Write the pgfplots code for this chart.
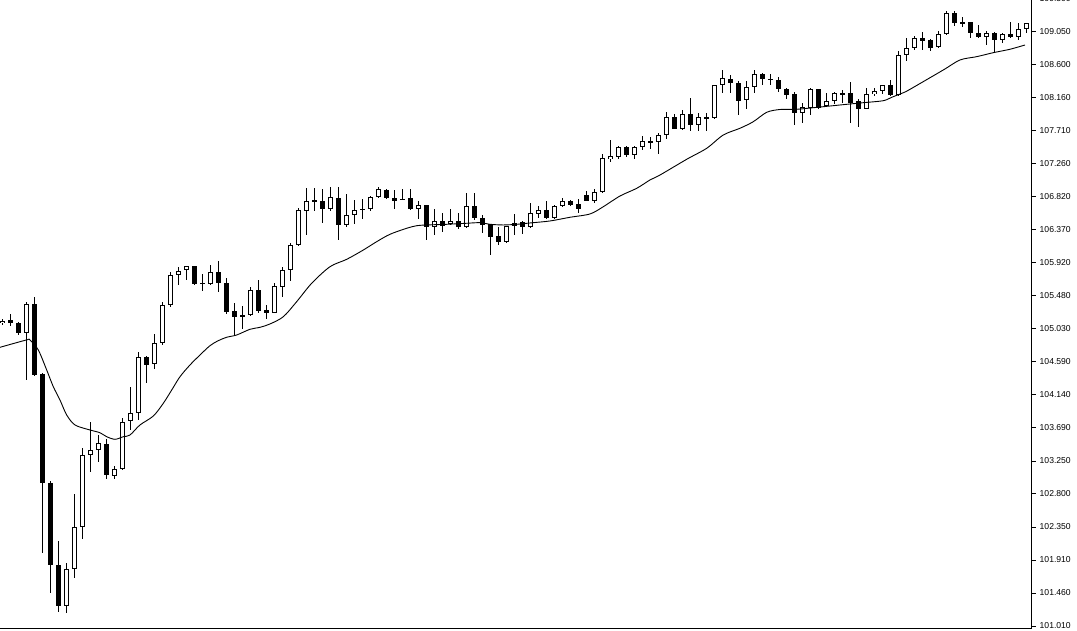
\documentclass[border=0pt]{standalone}
\usepackage{pgfplots}
\pgfplotsset{compat=1.18}
\usepackage{pgfplotstable}
\usepackage{fontspec}
\setmainfont{Liberation Sans}

\pgfplotstableread{
x o h l c
0 105.107 105.165 105.084 105.142
1 105.152 105.233 105.071 105.107
2 105.107 105.125 104.953 104.972
3 104.972 105.400 104.340 105.368
4 105.368 105.467 104.390 104.403
5 104.421 104.430 102.002 102.942
6 102.950 102.969 101.453 101.832
7 101.832 102.165 101.204 101.281
8 101.281 101.859 101.182 101.786
9 101.778 102.797 101.656 102.346
10 102.346 103.415 102.184 103.325
11 103.321 103.767 103.099 103.392
12 103.392 103.595 103.234 103.483
13 103.474 103.537 102.996 103.050
14 103.040 103.176 103.004 103.131
15 103.131 103.825 103.120 103.778
16 103.781 104.249 103.663 103.897
17 103.897 104.723 103.798 104.647
18 104.647 104.665 104.303 104.539
19 104.556 104.962 104.485 104.836
20 104.836 105.400 104.813 105.355
21 105.351 105.797 105.332 105.761
22 105.757 105.873 105.630 105.819
23 105.829 105.890 105.693 105.883
24 105.883 105.890 105.630 105.639
25 105.653 105.774 105.548 105.640
26 105.639 105.896 105.630 105.797
27 105.797 105.950 105.535 105.649
28 105.657 105.720 105.233 105.260
29 105.270 105.386 104.945 105.196
30 105.217 105.341 105.034 105.203
31 105.215 105.594 105.210 105.558
32 105.558 105.693 105.251 105.278
33 105.287 105.351 105.161 105.251
34 105.251 105.649 105.245 105.612
35 105.603 105.865 105.467 105.829
36 105.829 106.190 105.684 106.163
37 106.163 106.664 106.155 106.641
38 106.631 106.934 106.302 106.767
39 106.776 106.934 106.631 106.749
40 106.758 106.921 106.461 106.650
41 106.650 106.956 106.631 106.813
42 106.803 106.956 106.235 106.442
43 106.442 106.857 106.415 106.573
44 106.569 106.776 106.451 106.641
45 106.657 106.785 106.523 106.643
46 106.650 106.830 106.623 106.821
47 106.821 106.948 106.803 106.921
48 106.911 106.929 106.785 106.810
49 106.799 106.911 106.650 106.767
50 106.796 106.921 106.780 106.783
51 106.799 106.921 106.641 106.658
52 106.658 106.767 106.515 106.708
53 106.708 106.715 106.235 106.415
54 106.407 106.650 106.306 106.496
55 106.496 106.596 106.347 106.428
56 106.451 106.650 106.445 106.496
57 106.496 106.596 106.379 106.415
58 106.407 106.867 106.400 106.695
59 106.695 106.867 106.505 106.528
60 106.528 106.573 106.325 106.434
61 106.451 106.455 106.028 106.279
62 106.289 106.415 106.163 106.208
63 106.208 106.430 106.200 106.424
64 106.424 106.587 106.302 106.472
65 106.476 106.496 106.316 106.407
66 106.407 106.731 106.400 106.596
67 106.591 106.699 106.528 106.637
68 106.637 106.763 106.520 106.528
69 106.532 106.705 106.515 106.695
70 106.691 106.803 106.677 106.758
71 106.763 106.776 106.695 106.712
72 106.722 106.785 106.596 106.650
73 106.844 106.902 106.760 106.767
74 106.767 106.925 106.731 106.880
75 106.880 107.395 106.867 107.340
76 107.335 107.588 107.294 107.368
77 107.354 107.507 107.327 107.489
78 107.489 107.507 107.354 107.381
79 107.381 107.507 107.335 107.497
80 107.489 107.642 107.453 107.571
81 107.575 107.633 107.462 107.561
82 107.558 107.679 107.399 107.653
83 107.652 107.963 107.598 107.899
84 107.899 107.940 107.735 107.741
85 107.741 107.994 107.723 107.940
86 107.940 108.153 107.714 107.795
87 107.795 107.950 107.706 107.895
88 107.897 107.958 107.714 107.883
89 107.882 108.335 107.875 108.329
90 108.329 108.536 108.220 108.423
91 108.418 108.468 108.228 108.356
92 108.364 108.391 107.922 108.112
93 108.130 108.391 108.012 108.301
94 108.301 108.536 108.228 108.481
95 108.481 108.499 108.333 108.410
96 108.416 108.481 108.333 108.403
97 108.400 108.437 108.238 108.274
98 108.278 108.292 108.139 108.201
99 108.211 108.242 107.787 107.950
100 107.950 108.093 107.822 108.031
101 108.017 108.288 107.926 108.278
102 108.278 108.285 108.010 108.017
103 108.048 108.220 108.031 108.112
104 108.112 108.238 108.075 108.220
105 108.222 108.265 108.085 108.208
106 108.220 108.373 107.814 108.093
107 108.112 108.147 107.768 108.012
108 108.012 108.288 108.004 108.207
109 108.207 108.292 108.184 108.255
110 108.251 108.337 108.211 108.329
111 108.329 108.400 108.184 108.193
112 108.193 108.797 108.185 108.739
113 108.739 108.965 108.661 108.829
114 108.829 108.996 108.806 108.965
115 108.965 109.054 108.806 108.932
116 108.942 108.951 108.797 108.829
117 108.843 109.067 108.840 109.019
118 109.019 109.334 109.015 109.303
119 109.311 109.334 109.131 109.168
120 109.183 109.257 109.122 109.169
121 109.189 109.190 108.965 109.032
122 109.032 109.145 108.965 108.978
123 108.978 109.067 108.874 109.032
124 109.032 109.054 108.783 108.942
125 108.942 109.040 108.905 109.019
126 109.019 109.189 108.965 108.978
127 108.978 109.168 108.942 109.086
128 109.086 109.176 109.032 109.168
}\candles

\pgfplotstableread{
x ma
-0.29 104.782
3.0 104.881
3.46 104.881
4.5 104.746
5.55 104.475
6.375 104.249
7.21 104.069
8.05 103.866
9.09 103.731
10.96 103.663
12.21 103.626
13.05 103.572
14.09 103.537
15.125 103.572
15.96 103.595
17.21 103.731
18.875 103.852
20.125 104.024
21.175 104.204
22.21 104.384
23.46 104.543
24.71 104.678
25.96 104.804
27.0 104.872
28.05 104.918
29.3 104.949
30.96 105.026
32.21 105.053
33.46 105.098
35.125 105.196
36.8 105.400
38.675 105.649
40.96 105.873
43.05 105.973
45.125 106.099
46.8 106.212
48.46 106.312
50.55 106.393
51.8 106.428
53.05 106.438
55.55 106.447
58.05 106.461
59.71 106.469
60.96 106.447
62.625 106.438
64.3 106.447
65.96 106.465
68.46 106.492
70.96 106.542
73.46 106.587
75.125 106.685
77.21 106.830
79.3 106.934
80.96 107.047
82.21 107.114
85.55 107.327
88.05 107.476
90.125 107.656
92.21 107.747
93.875 107.836
95.55 107.963
97.21 108.001
99.3 108.004
101.375 108.025
103.46 108.048
105.55 108.071
107.625 108.093
110.125 108.120
111.175 108.166
112.625 108.228
113.46 108.274
117.625 108.536
119.71 108.671
121.8 108.716
123.875 108.770
125.96 108.816
127.84 108.874
}\maline

\begin{document}
\begin{tikzpicture}
\begin{axis}[
  at={(0pt,2pt)}, anchor=south west,
  scale only axis, width=1032pt, height=630pt,
  xmin=-0.2875, xmax=128.71, ymin=100.983, ymax=109.510,
  axis x line=bottom, axis y line=right,
  axis line style={-, black, line width=1pt},
  xtick=\empty,
  ytick={101.01,101.4567,101.9033,102.35,102.7967,103.2433,103.69,104.1367,104.5833,105.03,105.4767,105.9233,106.37,106.8167,107.2633,107.71,108.1567,108.6033,109.05,109.4967},
  yticklabels={101.010,101.460,101.910,102.350,102.800,103.250,103.690,104.140,104.590,105.030,105.480,105.920,106.370,106.820,107.260,107.710,108.160,108.600,109.050,109.500},
  tick align=outside, major tick length=4pt,
  tick style={black, line width=1pt},
  yticklabel style={font=\fontsize{8.6}{10}\selectfont, anchor=west, inner sep=0pt, xshift=3.5pt, text=black},
]
% wicks
\addplot[draw=none, mark=none, forget plot,
  error bars/.cd, y dir=both, y explicit, error mark=none,
  error bar style={draw=black, solid, line width=1pt, line cap=butt}]
  table[x=x, y expr={(\thisrow{h}+\thisrow{l})/2}, y error expr={(\thisrow{h}-\thisrow{l})/2}] {\candles};
% bodies (black)
\addplot[draw=none, mark=none, forget plot,
  error bars/.cd, y dir=both, y explicit, error mark=none,
  error bar style={draw=black, solid, line width=5pt, line cap=butt}]
  table[x=x, y expr={(\thisrow{o}+\thisrow{c})/2}, y error expr={max(abs(\thisrow{o}-\thisrow{c})/2,0.0068)}] {\candles};
% bodies (white inside for rising candles)
\addplot[draw=none, mark=none, forget plot,
  error bars/.cd, y dir=both, y explicit, error mark=none,
  error bar style={draw=white, solid, line width=3pt, line cap=butt}]
  table[x=x, y expr={(\thisrow{o}+\thisrow{c})/2}, y error expr={max((\thisrow{c}-\thisrow{o})/2-0.0135,0)}] {\candles};
% moving average
\addplot[black, line width=0.9pt, mark=none, smooth] table[x=x, y=ma] {\maline};
\end{axis}
\pgfresetboundingbox
\useasboundingbox (0,0) rectangle (1077pt,630pt);
\end{tikzpicture}
\end{document}
